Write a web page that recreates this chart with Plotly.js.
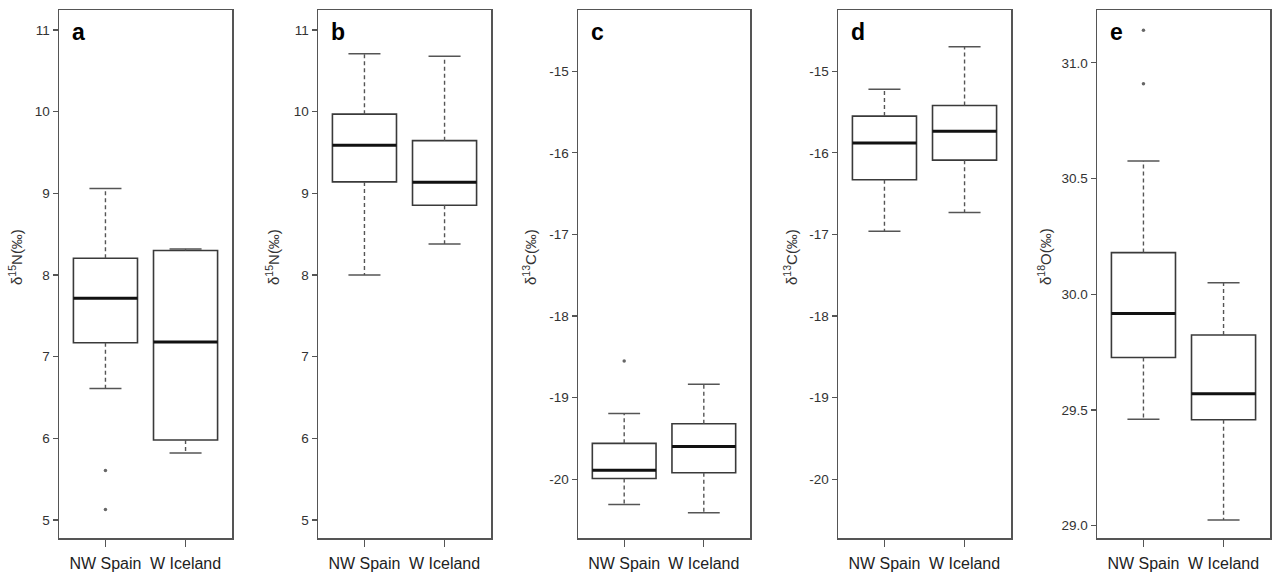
<!DOCTYPE html>
<html>
<head>
<meta charset="utf-8">
<script src="https://cdn.plot.ly/plotly-3.0.1.min.js"></script>
<style>html,body{margin:0;padding:0;background:#fff;}#chart{width:1281px;height:574px;}</style>
</head>
<body>
<div id="chart"></div>
<script>
// ---------- DATA ----------
const categories = ['NW Spain', 'W Iceland'];
const panelLetters = ['a', 'b', 'c', 'd', 'e'];
const yLabels = ['δ<sup>15</sup>N(‰)', 'δ<sup>15</sup>N(‰)', 'δ<sup>13</sup>C(‰)', 'δ<sup>13</sup>C(‰)', 'δ<sup>18</sup>O(‰)'];
const whiskerLow  = [[6.61, 5.82],  [8.00, 8.38],  [-20.31, -20.41], [-16.96, -16.73], [29.46, 29.025]];
const q1Values    = [[7.17, 5.98],  [9.14, 8.855], [-19.99, -19.92], [-16.33, -16.09], [29.727, 29.458]];
const medianValues= [[7.716, 7.18], [9.59, 9.135], [-19.89, -19.60], [-15.88, -15.735], [29.917, 29.57]];
const q3Values    = [[8.205, 8.30], [9.97, 9.645], [-19.56, -19.32], [-15.55, -15.42], [30.18, 29.824]];
const whiskerHigh = [[9.06, 8.32],  [10.71, 10.68],[-19.195, -18.835],[-15.22, -14.70], [30.576, 30.05]];
const outlierValues = [[[5.606, 5.13], []], [[], []], [[-18.55], []], [[], []], [[31.14, 30.909], []]];
const yTickValues = [[5, 6, 7, 8, 9, 10, 11], [5, 6, 7, 8, 9, 10, 11], [-20, -19, -18, -17, -16, -15], [-20, -19, -18, -17, -16, -15], [29.0, 29.5, 30.0, 30.5, 31.0]];
const yTickLabels = [['5','6','7','8','9','10','11'], ['5','6','7','8','9','10','11'], ['-20','-19','-18','-17','-16','-15'], ['-20','-19','-18','-17','-16','-15'], ['29.0','29.5','30.0','30.5','31.0']];

// ---------- LAYOUT / STYLE ----------
const W = 1281, H = 574;
const px = x => x / W;
const py = y => 1 - y / H;
const frames = [[59, 232], [318, 491], [578, 750], [838, 1011], [1097, 1270]];
const yRanges = [[4.78, 11.245], [4.78, 11.245], [-20.72, -14.25], [-20.72, -14.25], [28.947, 31.228]];
const labelX = [15, 272, 529, 790, 1044];
const frameTop = 10, frameBottom = 538;
const boxHalf = 0.4, capHalf = 0.2;
const font = 'Liberation Sans, Arial, sans-serif';

const data = [];
const layout = {
  width: W, height: H,
  margin: {l: 0, r: 0, t: 0, b: 0},
  paper_bgcolor: '#fff', plot_bgcolor: '#fff',
  showlegend: false,
  hovermode: false,
  annotations: []
};

const xs = categories.map((c, i) => i + 1);

for (let p = 0; p < 5; p++) {
  const sfx = p === 0 ? '' : String(p + 1);
  const xa = 'x' + sfx, ya = 'y' + sfx;

  // box body
  data.push({
    type: 'box', xaxis: xa, yaxis: ya,
    x: xs, q1: q1Values[p], median: medianValues[p], q3: q3Values[p],
    lowerfence: q1Values[p], upperfence: q3Values[p],
    width: 2 * boxHalf, whiskerwidth: 0, boxpoints: false,
    fillcolor: 'rgba(255,255,255,0)',
    line: {color: '#3a3a3a', width: 1.6}
  });

  xs.forEach((xc, i) => {
    // dashed whiskers
    data.push({
      type: 'scatter', mode: 'lines', xaxis: xa, yaxis: ya,
      x: [xc, xc, null, xc, xc],
      y: [q3Values[p][i], whiskerHigh[p][i], null, q1Values[p][i], whiskerLow[p][i]],
      line: {color: '#555', width: 1.4, dash: '4px,3px'}
    });
    // whisker caps
    data.push({
      type: 'scatter', mode: 'lines', xaxis: xa, yaxis: ya,
      x: [xc - capHalf, xc + capHalf, null, xc - capHalf, xc + capHalf],
      y: [whiskerHigh[p][i], whiskerHigh[p][i], null, whiskerLow[p][i], whiskerLow[p][i]],
      line: {color: '#555', width: 1.5}
    });
    // thick median
    data.push({
      type: 'scatter', mode: 'lines', xaxis: xa, yaxis: ya,
      x: [xc - boxHalf, xc + boxHalf],
      y: [medianValues[p][i], medianValues[p][i]],
      line: {color: '#111', width: 3}
    });
    // outliers
    if (outlierValues[p][i].length) {
      data.push({
        type: 'scatter', mode: 'markers', xaxis: xa, yaxis: ya,
        x: outlierValues[p][i].map(() => xc), y: outlierValues[p][i],
        marker: {color: '#666', size: 3.5}
      });
    }
  });

  layout['xaxis' + sfx] = {
    domain: [px(frames[p][0]), px(frames[p][1])],
    anchor: ya, range: [0.42, 2.58],
    tickmode: 'array', tickvals: xs, ticktext: categories,
    ticks: 'outside', ticklen: 7, tickwidth: 1.3, tickcolor: '#555',
    ticklabelstandoff: 3,
    showline: true, mirror: true, linecolor: '#555', linewidth: 1.5,
    showgrid: false, zeroline: false, fixedrange: true,
    tickfont: {family: font, size: 16, color: '#222'}
  };
  layout['yaxis' + sfx] = {
    domain: [py(frameBottom), py(frameTop)],
    anchor: xa, range: yRanges[p],
    tickmode: 'array', tickvals: yTickValues[p], ticktext: yTickLabels[p],
    ticks: 'outside', ticklen: 5, tickwidth: 1.3, tickcolor: '#555',
    showline: true, mirror: true, linecolor: '#555', linewidth: 1.5,
    showgrid: false, zeroline: false, fixedrange: true,
    tickfont: {family: font, size: 13.5, color: '#333'}
  };

  layout.annotations.push({
    xref: 'paper', yref: 'paper',
    x: px(frames[p][0] + 11), y: py(32),
    xanchor: 'left', yanchor: 'middle',
    text: '<b>' + panelLetters[p] + '</b>', showarrow: false,
    font: {family: font, size: 23, color: '#000'}
  });
  layout.annotations.push({
    xref: 'paper', yref: 'paper',
    x: px(labelX[p]), y: py(257),
    xanchor: 'center', yanchor: 'middle', textangle: -90,
    text: yLabels[p], showarrow: false,
    font: {family: font, size: 15, color: '#333'}
  });
}

Plotly.newPlot('chart', data, layout, {displayModeBar: false, staticPlot: true});
</script>
</body>
</html>
